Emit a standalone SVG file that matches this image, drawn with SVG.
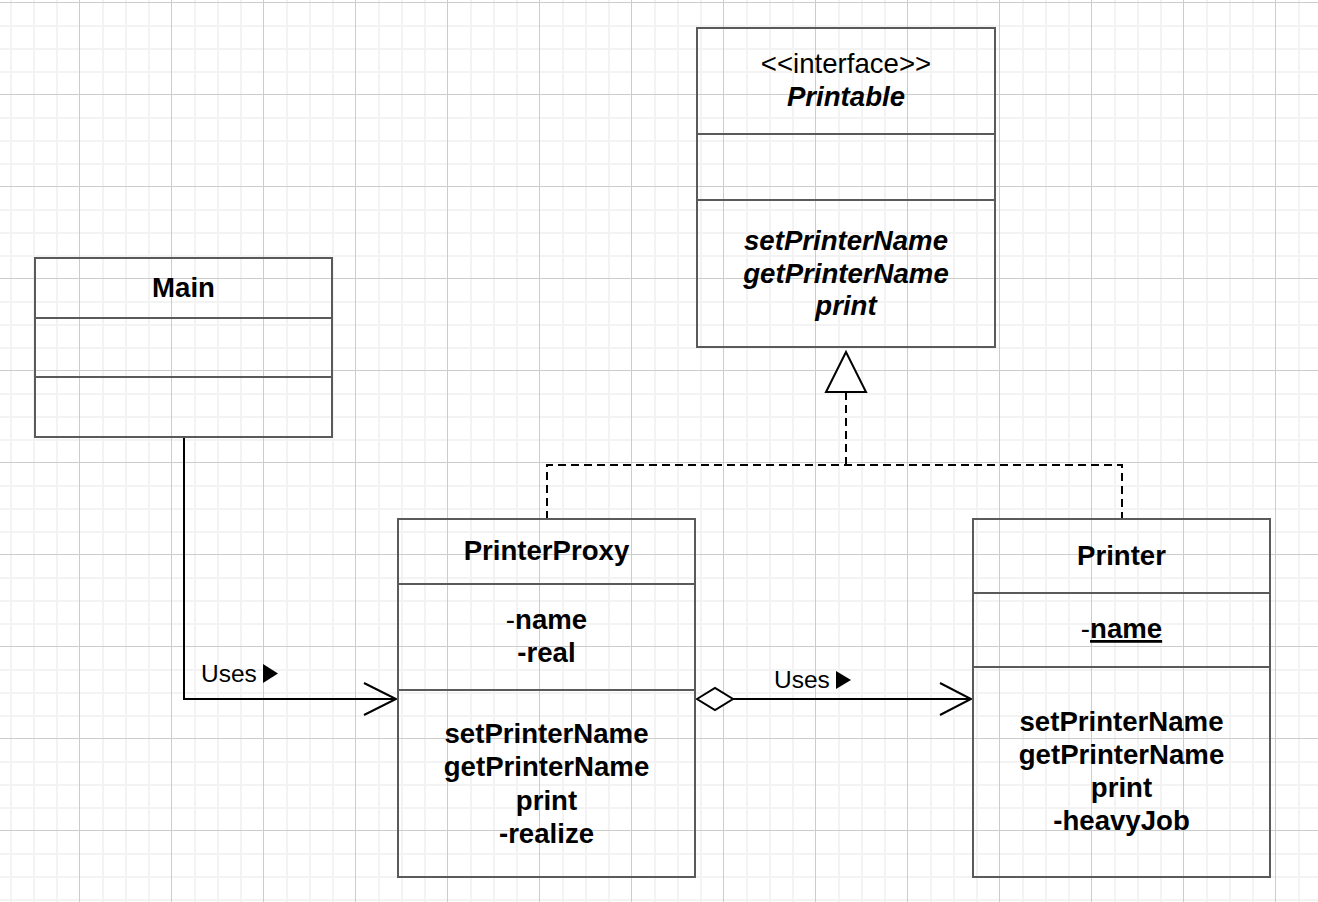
<svg xmlns="http://www.w3.org/2000/svg" width="1318" height="902" viewBox="0 0 1318 902">
  <defs>
    <pattern id="grid" x="79" y="2" width="92" height="92" patternUnits="userSpaceOnUse">
      <rect x="23" y="0" width="2" height="92" fill="#f3f3f3"/>
      <rect x="46" y="0" width="2" height="92" fill="#f3f3f3"/>
      <rect x="69" y="0" width="2" height="92" fill="#f3f3f3"/>
      <rect x="0" y="23" width="92" height="2" fill="#f3f3f3"/>
      <rect x="0" y="46" width="92" height="2" fill="#f3f3f3"/>
      <rect x="0" y="69" width="92" height="2" fill="#f3f3f3"/>
      <rect x="0" y="0" width="1" height="92" fill="#cccccc"/>
      <rect x="0" y="0" width="92" height="1" fill="#cccccc"/>
    </pattern>
    <style>
      .box { fill: none; stroke: #5a5a5a; stroke-width: 2; }
      .div { stroke: #5a5a5a; stroke-width: 2; }
      .t { font-family: "Liberation Sans", Arial, sans-serif; font-size: 27.6px; fill: #000; text-anchor: middle; }
      .b { font-weight: bold; }
      .bi { font-weight: bold; font-style: italic; }
      .r { font-weight: normal; }
      .lbl { font-family: "Liberation Sans", Arial, sans-serif; font-size: 24.5px; fill: #000; }
      .edge { fill: none; stroke: #000; stroke-width: 2; }
      .dash { fill: none; stroke: #000; stroke-width: 2; stroke-dasharray: 8 5; }
    </style>
  </defs>
  <rect x="0" y="0" width="1318" height="902" fill="#ffffff"/>
  <rect x="0" y="0" width="1318" height="902" fill="url(#grid)"/>

  <g id="connectors">
    <!-- realization -->
    <path class="dash" d="M547 519 V465 H1122 V519"/>
    <path class="dash" d="M846 465 V392"/>
    <polygon points="846,352 826,392 866,392" fill="#ffffff" stroke="#000" stroke-width="2"/>
    <!-- Main -> PrinterProxy -->
    <path class="edge" d="M184 437 V699 H396"/>
    <path class="edge" d="M364 683 L396 699 L364 715"/>
    <text class="lbl" x="201" y="682">Uses</text>
    <polygon points="263,664 278,673.5 263,683" fill="#000"/>
    <!-- PrinterProxy -> Printer -->
    <path class="edge" d="M733 699 H971"/>
    <polygon points="697,699 715,688 733,699 715,710" fill="#ffffff" stroke="#000" stroke-width="2"/>
    <path class="edge" d="M940 683 L971 699 L940 715"/>
    <text class="lbl" x="774" y="688">Uses</text>
    <polygon points="836,671 851,680 836,689" fill="#000"/>
  </g>

  <g id="printable">
    <rect class="box" x="697" y="28" width="298" height="319"/>
    <line class="div" x1="697" y1="134" x2="995" y2="134"/>
    <line class="div" x1="697" y1="200" x2="995" y2="200"/>
    <text class="t" x="846" y="73">&lt;&lt;interface&gt;&gt;</text>
    <text class="t bi" x="846" y="106">Printable</text>
    <text class="t bi" x="846" y="250">setPrinterName</text>
    <text class="t bi" x="846" y="283">getPrinterName</text>
    <text class="t bi" x="846" y="315">print</text>
  </g>

  <g id="main">
    <rect class="box" x="35" y="258" width="297" height="179"/>
    <line class="div" x1="35" y1="318" x2="332" y2="318"/>
    <line class="div" x1="35" y1="377" x2="332" y2="377"/>
    <text class="t b" x="183.5" y="297">Main</text>
  </g>

  <g id="printerproxy">
    <rect class="box" x="398" y="519" width="297" height="358"/>
    <line class="div" x1="398" y1="584" x2="695" y2="584"/>
    <line class="div" x1="398" y1="690" x2="695" y2="690"/>
    <text class="t b" x="546.5" y="560">PrinterProxy</text>
    <text class="t b" x="546.5" y="629"><tspan class="r">-</tspan>name</text>
    <text class="t b" x="546.5" y="662">-real</text>
    <text class="t b" x="546.5" y="743">setPrinterName</text>
    <text class="t b" x="546.5" y="776">getPrinterName</text>
    <text class="t b" x="546.5" y="810">print</text>
    <text class="t b" x="546.5" y="843">-realize</text>
  </g>

  <g id="printer">
    <rect class="box" x="973" y="519" width="297" height="358"/>
    <line class="div" x1="973" y1="593" x2="1270" y2="593"/>
    <line class="div" x1="973" y1="667" x2="1270" y2="667"/>
    <text class="t b" x="1121.5" y="565">Printer</text>
    <text class="t b" x="1121.5" y="638"><tspan class="r">-</tspan><tspan text-decoration="underline">name</tspan></text>
    <text class="t b" x="1121.5" y="731">setPrinterName</text>
    <text class="t b" x="1121.5" y="764">getPrinterName</text>
    <text class="t b" x="1121.5" y="797">print</text>
    <text class="t b" x="1121.5" y="830">-heavyJob</text>
  </g>
</svg>
